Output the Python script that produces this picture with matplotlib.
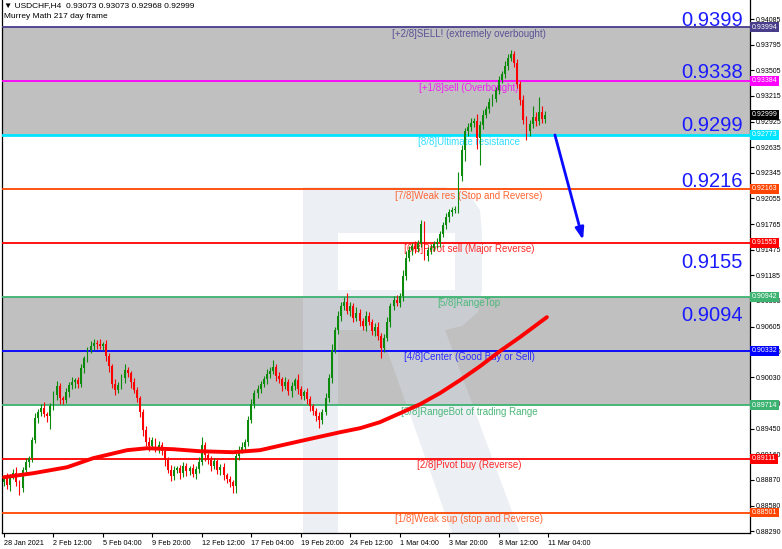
import matplotlib
matplotlib.use("Agg")
import matplotlib.pyplot as plt
import matplotlib.transforms as mtransforms
from matplotlib.patches import Polygon

# ---- USDCHF H4 candles (close prices, wick lengths in pips) ----
first_open = 0.88850
closes = [
    0.88890, 0.88810, 0.88912, 0.88946, 0.88844, 0.88776, 0.88980, 0.89071, 0.89116, 0.89320,
    0.89569, 0.89637, 0.89682, 0.89614, 0.89591, 0.89705, 0.89829, 0.89931, 0.89795, 0.89772,
    0.89863, 0.89942, 0.89976, 0.89999, 0.89954, 0.90135, 0.90248, 0.90338, 0.90384, 0.90418,
    0.90406, 0.90384, 0.90406, 0.90271, 0.90157, 0.89954, 0.89886, 0.89942, 0.90021, 0.90112,
    0.90078, 0.89976, 0.89886, 0.89795, 0.89637, 0.89433, 0.89297, 0.89252, 0.89320, 0.89229,
    0.89263, 0.89195, 0.89093, 0.88980, 0.88912, 0.88980, 0.89003, 0.88946, 0.89025, 0.88969,
    0.89003, 0.88935, 0.88991, 0.89071, 0.89263, 0.89150, 0.89093, 0.89025, 0.89082, 0.88980,
    0.89014, 0.88924, 0.88878, 0.88844, 0.88799, 0.89139, 0.89207, 0.89241, 0.89297, 0.89546,
    0.89727, 0.89852, 0.89897, 0.89954, 0.90010, 0.90067, 0.90101, 0.90146, 0.90044, 0.90010,
    0.89931, 0.89976, 0.89874, 0.89931, 0.89999, 0.89897, 0.89818, 0.89863, 0.89784, 0.89705,
    0.89648, 0.89591, 0.89546, 0.89637, 0.89795, 0.90021, 0.90338, 0.90565, 0.90723, 0.90836,
    0.90882, 0.90780, 0.90836, 0.90701, 0.90757, 0.90667, 0.90610, 0.90723, 0.90655, 0.90553,
    0.90599, 0.90497, 0.90361, 0.90474, 0.90655, 0.90836, 0.90904, 0.90870, 0.90950, 0.91176,
    0.91380, 0.91470, 0.91516, 0.91482, 0.91550, 0.91765, 0.91402, 0.91470, 0.91493, 0.91538,
    0.91561, 0.91651, 0.91753, 0.91844, 0.91900, 0.91923, 0.91934, 0.92308, 0.92602, 0.92817,
    0.92863, 0.92908, 0.92930, 0.92738, 0.92885, 0.92998, 0.93066, 0.93146, 0.93180, 0.93281,
    0.93395, 0.93462, 0.93553, 0.93644, 0.93689, 0.93587, 0.93349, 0.93168, 0.92942, 0.92817,
    0.92897, 0.92976, 0.92930, 0.93032, 0.92953, 0.92999,
]
wick_up = [
    4, 6, 3, 5, 7, 3, 4, 5, 3, 4,
    6, 4, 5, 7, 3, 4, 5, 6, 4, 3,
    5, 4, 6, 3, 4, 5, 3, 4, 6, 5,
    4, 6, 3, 5, 4, 3, 6, 4, 5, 7,
    4, 3, 5, 4, 3, 4, 5, 6, 4, 3,
    5, 4, 3, 4, 6, 5, 3, 4, 5, 4,
    3, 5, 4, 6, 9, 4, 3, 5, 4, 3,
    4, 5, 3, 4, 3, 4, 5, 6, 4, 5,
    6, 4, 5, 3, 4, 6, 5, 8, 4, 5,
    3, 6, 4, 5, 3, 7, 4, 3, 5, 4,
    3, 4, 5, 4, 6, 5, 7, 4, 6, 5,
    6, 10, 5, 4, 7, 5, 4, 6, 5, 4,
    5, 6, 4, 5, 6, 4, 5, 6, 4, 7,
    8, 5, 4, 6, 4, 5, 4, 3, 5, 4,
    5, 4, 3, 5, 4, 3, 4, 5, 6, 4,
    5, 6, 4, 8, 5, 6, 4, 5, 6, 4,
    5, 4, 6, 5, 4, 3, 5, 4, 6, 5,
    4, 12, 6, 17, 7, 4,
]
wick_dn = [
    5, 4, 6, 3, 4, 8, 4, 3, 5, 4,
    3, 5, 4, 3, 6, 14, 4, 5, 6, 4,
    3, 5, 4, 6, 4, 3, 5, 4, 3, 4,
    5, 3, 4, 5, 6, 4, 5, 3, 4, 5,
    4, 6, 3, 4, 5, 6, 4, 5, 3, 4,
    5, 4, 6, 3, 5, 4, 3, 6, 4, 5,
    4, 3, 5, 4, 3, 6, 4, 5, 3, 4,
    5, 6, 4, 5, 8, 8, 4, 3, 5, 4,
    3, 4, 5, 4, 3, 5, 4, 3, 6, 4,
    5, 3, 4, 6, 4, 5, 3, 4, 5, 6,
    4, 5, 9, 4, 3, 4, 5, 3, 4, 5,
    4, 3, 5, 4, 3, 6, 4, 5, 3, 4,
    5, 4, 11, 4, 3, 5, 4, 3, 4, 5,
    4, 3, 5, 4, 3, 4, 4, 5, 4, 3,
    4, 5, 3, 4, 5, 4, 3, 4, 6, 12,
    5, 4, 5, 12, 30, 4, 3, 4, 5, 3,
    4, 3, 4, 5, 3, 4, 5, 6, 4, 10,
    5, 4, 6, 4, 5, 4,
]
PIP = 0.0001

# 217-day moving average (bar index, value)
ma_bars = [0, 9.4, 20.4, 28.8, 39.8, 46.3, 54.7, 63.4, 74.1, 82.8, 95.7, 108.7, 115.2,
           121.6, 128.1, 134.6, 141.0, 147.5, 154.0, 160.4, 166.9, 175.6]
ma_vals = [0.88901, 0.88946, 0.89014, 0.89116, 0.89207, 0.89229, 0.89218, 0.89195, 0.89184,
           0.89207, 0.89309, 0.89410, 0.89456, 0.89524, 0.89625, 0.89727, 0.89852, 0.89999,
           0.90157, 0.90327, 0.90486, 0.90712]

# Murrey Math levels
levels = [0.93994, 0.93384, 0.92773, 0.92163, 0.91553, 0.90942, 0.90332, 0.89714, 0.89111, 0.88501]
level_names = [
    "[+2/8]SELL! (extremely overbought)",
    "[+1/8]sell (Overbought)",
    "[8/8]Ultimate resistance",
    "[7/8]Weak res (Stop and Reverse)",
    "[6/8]Pivot sell (Major Reverse)",
    "[5/8]RangeTop",
    "[4/8]Center (Good Buy or Sell)",
    "[3/8]RangeBot of trading Range",
    "[2/8]Pivot buy (Reverse)",
    "[1/8]Weak sup (stop and Reverse)",
]
level_colors = ["#483d8b", "#ff00ff", "#00e5ff", "#ff4500", "#ff0000",
                "#3cb371", "#0000ff", "#3cb371", "#ff0000", "#ff4500"]
text_colors = ["#5a5296", "#ee22ee", "#33ddff", "#ff6633", "#ff2a2a",
               "#4cb87a", "#2a2aff", "#4cb87a", "#ff2a2a", "#ff6633"]

current_price = 0.92999

# big target prices, with the level each one sits next to
big_labels = ["0.9399", "0.9338", "0.9299", "0.9216", "0.9155", "0.9094"]
big_anchor = [0.93994, 0.93384, 0.92773, 0.92163, 0.91553, 0.90942]
big_shift_pt = [4.4, 5.8, 6.5, 5.1, -14.4, -13.6]

price_ticks = [0.94085, 0.93795, 0.93505, 0.93215, 0.92925, 0.92635, 0.92345, 0.92055,
               0.91765, 0.91475, 0.91185, 0.90895, 0.90605, 0.90320, 0.90030, 0.89740,
               0.89450, 0.89160, 0.88870, 0.88580, 0.88290]

time_bars = [0, 16, 32, 48, 64, 80, 96, 112, 128, 144, 160, 176]
time_labels = ["28 Jan 2021", "2 Feb 12:00", "5 Feb 04:00", "9 Feb 20:00", "12 Feb 12:00",
               "17 Feb 04:00", "19 Feb 20:00", "24 Feb 12:00", "1 Mar 04:00", "3 Mar 20:00",
               "8 Mar 12:00", "11 Mar 04:00"]

# forecast arrow: from the 8/8 line down to the 6/8 line
arrow_from = (178.2, 0.92773)
arrow_to = (187.3, 0.91585)

FONT = "Liberation Sans"
plt.rcParams["font.family"] = [FONT, "DejaVu Sans"]

W, H = 782, 549
AX_L, AX_T, AX_W, AX_H = 2, 0, 748, 533
fig = plt.figure(figsize=(W / 100, H / 100), dpi=100)
fig.patch.set_facecolor("white")
ax = fig.add_axes([AX_L / W, (H - AX_T - AX_H) / H, AX_W / W, AX_H / H])
ax.set_facecolor("white")
ax.set_xlim(-0.65, 241.3)
ax.set_ylim(0.88270, 0.94300)

# shaded zones
ax.axhspan(levels[2], levels[0], color="#c0c0c0", zorder=0, lw=0)
ax.axhspan(levels[7], levels[5], color="#c0c0c0", zorder=0, lw=0)


# faint broker logo in the background (drawn in axes pixel space)
def px(x, y):
    return ((x - AX_L) / AX_W, 1 - (y - AX_T) / AX_H)


logo_parts = [
    [(303, 187), (338, 187), (338, 533), (303, 533)],                       # stem
    [(338, 187), (445, 187), (468, 193), (480, 210), (482, 233),
     (455, 233), (338, 233)],                                               # top bar
    [(455, 233), (482, 233), (482, 290), (478, 312), (462, 326),
     (445, 330), (338, 330), (338, 290), (455, 290)],                       # bowl
    [(380, 330), (445, 330), (520, 533), (452, 533)],                       # leg
]
for pts in logo_parts:
    ax.add_patch(Polygon([px(*p) for p in pts], closed=True, transform=ax.transAxes,
                         facecolor="#d5dde8", edgecolor="none", alpha=0.45, zorder=1))

# level lines and their captions
label_x = 150.4
for v, name, c, tc in zip(levels, level_names, level_colors, text_colors):
    lw = 2.0 if c == "#00e5ff" else 1.3
    ax.axhline(v, color=c, lw=lw, zorder=3)
    ax.annotate(name, xy=(label_x, v), xytext=(0, -1.2), textcoords="offset points",
                ha="center", va="top", fontsize=7, color=tc, zorder=4)

# candles
opens = [first_open] + closes[:-1]
for i, (o, c, up, dn) in enumerate(zip(opens, closes, wick_up, wick_dn)):
    col = "#0b8a0b" if c >= o else "#ff0000"
    hi = max(o, c) + up * PIP
    lo = min(o, c) - dn * PIP
    ax.vlines(i, lo, hi, color=col, lw=0.8, zorder=5)
    body = max(abs(c - o), 0.00003)
    ax.bar(i, body, bottom=min(o, c), width=0.62, color=col, lw=0, zorder=5)

# moving average
ax.plot(ma_bars, ma_vals, color="#ff0000", lw=2.8, solid_capstyle="round",
        solid_joinstyle="round", zorder=6)

# forecast arrow
ax.annotate("", xy=arrow_to, xytext=arrow_from,
            arrowprops=dict(arrowstyle="-|>,head_length=0.7,head_width=0.25",
                            color="#0a0aff", lw=2.0, shrinkA=0, shrinkB=0), zorder=7)

# big target numbers on the right
for txt, v, dy in zip(big_labels, big_anchor, big_shift_pt):
    ax.annotate(txt, xy=(239.0, v), xytext=(0, dy), textcoords="offset points",
                ha="right", va="center", fontsize=14.5, color="#1a1aff", zorder=8)

# axes frame and ticks
ax.spines["top"].set_visible(False)
for s in ("left", "right", "bottom"):
    ax.spines[s].set_color("#000000")
    ax.spines[s].set_linewidth(0.9)

ax.yaxis.tick_right()
ax.set_yticks(price_ticks)
ax.set_yticklabels([f"{t:.5f}" for t in price_ticks])
ax.tick_params(axis="y", length=3, width=0.8, pad=1.0, labelsize=5.0, colors="#000000")
ax.set_xticks(time_bars)
ax.set_xticklabels(time_labels)
for lbl in ax.get_xticklabels():
    lbl.set_ha("left")
ax.tick_params(axis="x", length=3, width=0.8, pad=2, labelsize=5.2, colors="#000000")

# price boxes on the right axis
trans = mtransforms.blended_transform_factory(ax.transAxes, ax.transData)
box_vals = levels + [current_price]
box_cols = level_colors + ["#000000"]
for v, c in zip(box_vals, box_cols):
    ax.text(1.0025, v, f"{v:.5f}", transform=trans, ha="left", va="center",
            fontsize=5.0, color="white", zorder=10, clip_on=False,
            bbox=dict(boxstyle="square,pad=0.2", fc=c, ec="none"))

# header
fig.text(4 / W, 1 - 6 / H, "\u25BC USDCHF,H4  0.93073 0.93073 0.92968 0.92999",
         fontsize=6, va="center", ha="left", color="#000000")
fig.text(4 / W, 1 - 17 / H, "Murrey Math 217 day frame", fontsize=6,
         va="center", ha="left", color="#000000")

fig.savefig("out.png", dpi=100)
